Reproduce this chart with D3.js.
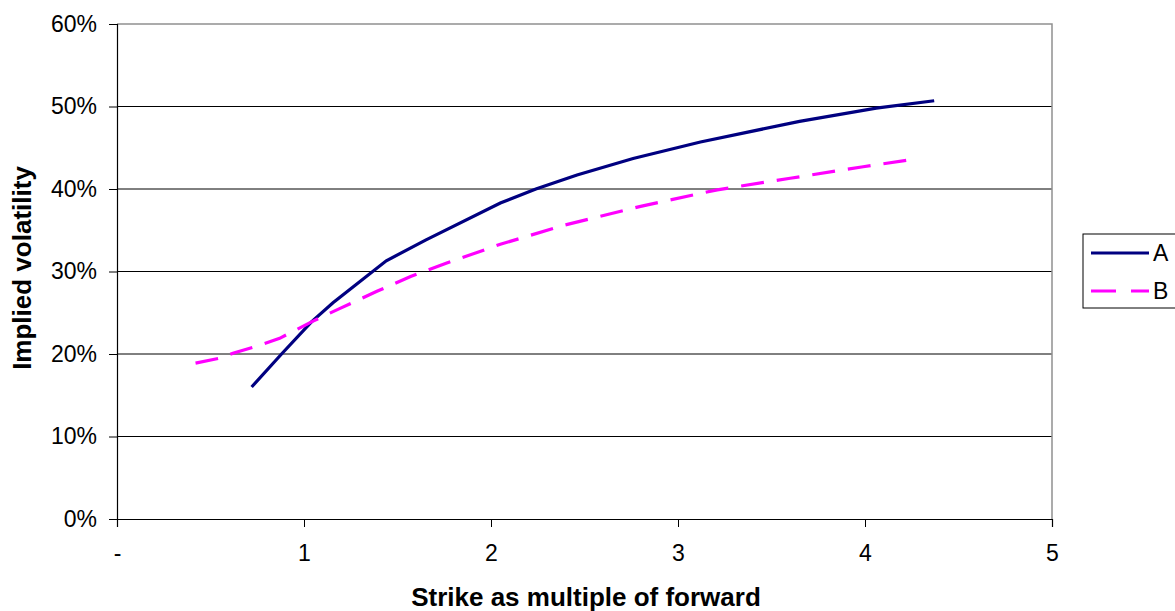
<!DOCTYPE html>
<meta charset="utf-8">
<style type="text/css">
body { margin: 0; background: #fff; }
svg text { font-family: "Liberation Sans", Arial, sans-serif; fill: #000; }
.tick-label { font-size: 23px; }
.axis-title { font-size: 26px; font-weight: bold; }
.legend-label { font-size: 23px; }
</style>
<body>
<div id="chart"></div>
<script src="https://cdnjs.cloudflare.com/ajax/libs/d3/7.8.5/d3.min.js"></script>
<script type="text/javascript">

// strike / forward and implied vol (%)
var strikeA = [0.72, 0.88, 1.04, 1.155, 1.44, 1.65, 2.05, 2.24, 2.46, 2.76, 3.12, 3.65, 4.06, 4.37];
var volA    = [16.0, 20.0, 23.9, 26.2, 31.3, 33.8, 38.3, 40.0, 41.7, 43.7, 45.7, 48.2, 49.8, 50.7];

var strikeB = [0.42, 0.55, 0.62, 0.74, 0.87, 1.04, 1.19, 1.39, 1.57, 1.76, 2.05, 2.39, 2.80, 3.21, 3.60, 3.99, 4.26];
var volB    = [18.9, 19.5, 20.1, 20.9, 21.9, 23.9, 25.5, 27.6, 29.4, 31.0, 33.3, 35.6, 37.9, 39.9, 41.3, 42.7, 43.6];

var seriesNames = ["A", "B"];
var xTicks = [0, 1, 2, 3, 4, 5];
var yTicks = [0, 10, 20, 30, 40, 50, 60];

var width = 1175, height = 611;
var margin = {top: 24, left: 117, right: 123, bottom: 92};

var svg = d3.select("#chart").append("svg")
  .attr("width", width)
  .attr("height", height);

var x = d3.scaleLinear().domain([0, 5]).range([margin.left, width - margin.right]);
var y = d3.scaleLinear().domain([0, 60]).range([height - margin.bottom, margin.top]);

//gridlines
svg.append("g")
  .selectAll("line")
  .data(yTicks.filter(function(d) { return d > 0 && d < 60; }))
  .enter().append("line")
  .attr("x1", x(0)).attr("x2", x(5))
  .attr("y1", function(d) { return y(d); })
  .attr("y2", function(d) { return y(d); })
  .style("stroke", "#000")
  .style("stroke-width", 1);

//plot border (top and right)
svg.append("path")
  .attr("d", "M" + x(0) + "," + y(60) + "H" + x(5) + "V" + y(0))
  .style("fill", "none")
  .style("stroke", "#909090")
  .style("stroke-width", 1.5);

//y axis
var yAxis = d3.axisLeft(y)
  .tickValues(yTicks)
  .tickSize(8)
  .tickPadding(12)
  .tickFormat(function(d) { return d + "%"; });

var gy = svg.append("g")
  .attr("transform", "translate(" + x(0) + ",0)")
  .call(yAxis);
gy.select(".domain").style("stroke", "#000").style("stroke-width", 1.2);
gy.selectAll("text").attr("class", "tick-label");

//x axis
var xAxis = d3.axisBottom(x)
  .tickValues(xTicks)
  .tickSize(8)
  .tickPadding(18)
  .tickFormat(function(d) { return d === 0 ? "-" : d; });

var gx = svg.append("g")
  .attr("transform", "translate(0," + y(0) + ")")
  .call(xAxis);
gx.select(".domain").style("stroke", "#000").style("stroke-width", 1.2);
gx.selectAll("text").attr("class", "tick-label");

svg.selectAll(".tick line").style("stroke", "#000");
svg.selectAll("g").attr("font-family", null).attr("font-size", null);

//axis titles
svg.append("text")
  .attr("class", "axis-title")
  .attr("x", 586)
  .attr("y", 606)
  .attr("text-anchor", "middle")
  .text("Strike as multiple of forward");

svg.append("text")
  .attr("class", "axis-title")
  .attr("transform", "translate(31,268) rotate(-90)")
  .attr("text-anchor", "middle")
  .text("Implied volatility");

//lines
var line = d3.line()
  .x(function(d) { return x(d[0]); })
  .y(function(d) { return y(d[1]); });

var dataA = d3.zip(strikeA, volA);
var dataB = d3.zip(strikeB, volB);

svg.append("path")
  .datum(dataA)
  .attr("d", line)
  .style("fill", "none")
  .style("stroke", "#000080")
  .style("stroke-width", 3.2);

svg.append("path")
  .datum(dataB)
  .attr("d", line)
  .style("fill", "none")
  .style("stroke", "#ff00ff")
  .style("stroke-width", 3.2)
  .style("stroke-dasharray", "23,13");

//legend
var legend = svg.append("g").attr("transform", "translate(1083,234)");
legend.append("rect")
  .attr("width", 110)
  .attr("height", 74)
  .style("fill", "#fff")
  .style("stroke", "#000")
  .style("stroke-width", 1);

var styles = [
  {color: "#000080", dash: null},
  {color: "#ff00ff", dash: "25,15"}
];

seriesNames.forEach(function(name, i) {
  var ly = 19 + i * 38;
  legend.append("line")
    .attr("x1", 8).attr("x2", 66)
    .attr("y1", ly).attr("y2", ly)
    .style("stroke", styles[i].color)
    .style("stroke-width", 3.2)
    .style("stroke-dasharray", styles[i].dash);
  legend.append("text")
    .attr("class", "legend-label")
    .attr("x", 70)
    .attr("y", ly + 8)
    .text(name);
});

</script>
</body>
